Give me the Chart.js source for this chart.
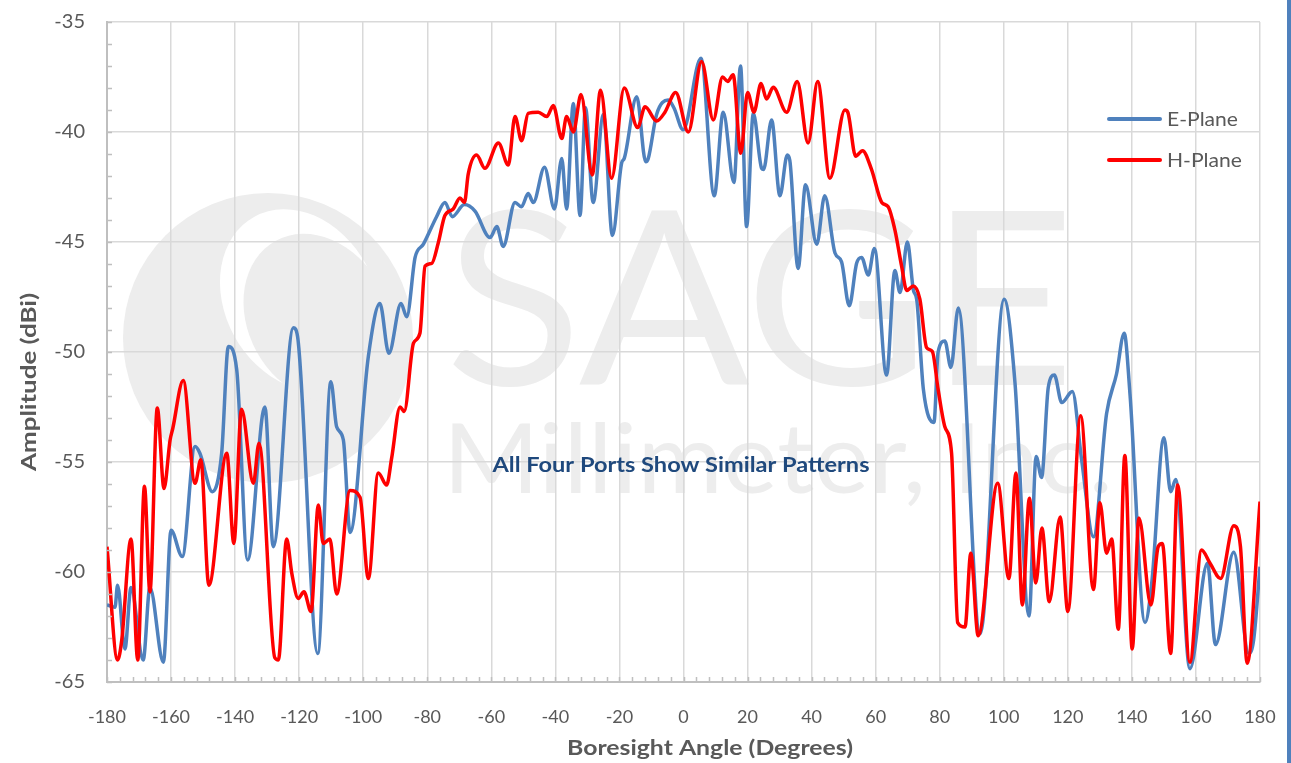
<!DOCTYPE html>
<html>
<head>
<meta charset="utf-8">
<script src="https://cdn.jsdelivr.net/npm/chart.js@4.4.1/dist/chart.umd.min.js"></script>
<style>
  html, body { margin: 0; padding: 0; background: #fff; }
  #wrap { position: relative; width: 1291px; height: 763px; }
</style>
</head>
<body>
<div id="wrap"><canvas id="pattern" width="1291" height="763"></canvas></div>
<script>
// tick values
const xTicks = [-180, -160, -140, -120, -100, -80, -60, -40, -20, 0, 20, 40, 60, 80, 100, 120, 140, 160, 180];
const yTicks = [-65, -60, -55, -50, -45, -40, -35];

// E-Plane measured pattern (angle in degrees, amplitude in dBi)
const eAngles = [-180, -177.5, -176.7, -174.4, -172.5, -168.7, -166.6, -162.4, -160, -156.5,
  -152.5, -151, -147.1, -144.2, -142.1, -139.5, -136.1, -131.5, -130.7, -128.1,
  -121.8, -120.5, -114.2, -110.1, -108.3, -106.2, -104.1, -98.4, -94.8, -92,
  -88.2, -86.4, -83.8, -81.2, -77.1, -74.5, -72.2, -68.4, -65.1, -60.4,
  -58.3, -56.3, -52.6, -50.6, -48.5, -46.9, -43.4, -40.3, -38, -36.5,
  -34.4, -32.3, -30.6, -28.2, -25, -22.2, -19.3, -18.5, -14.6, -11.8,
  -11, -8.4, -4.75, -3, -0.1, 5.46, 9.6, 12.4, 15.75, 17.8,
  19.7, 21.8, 24.4, 25, 27.5, 30.1, 32.4, 33.2, 35.8, 38.1,
  41.6, 44.1, 47.3, 49.35, 51.75, 54.05, 55.6, 57.7, 59.6, 63.4,
  66, 67.6, 69.9, 71.8, 72.8, 74.9, 78.2, 79.5, 81.6, 83.5,
  85.8, 92.6, 100.1, 103.5, 107.9, 110.1, 111.8, 113.9, 115.8, 118.1,
  121.4, 124.3, 128, 132.1, 135.2, 137.6, 139.4, 144.1, 146.2, 150,
  152.1, 153.7, 158.1, 163.6, 166.1, 171.8, 176.5, 178, 180];
const eValues = [-61.5, -61.6, -60.6, -63.5, -60.7, -64.0, -60.7, -64.1, -58.1, -59.3,
  -54.3, -54.6, -56.35, -54.6, -49.75, -50.8, -59.45, -52.9, -52.5, -58.85,
  -48.9, -49.3, -63.7, -51.35, -53.4, -54.0, -58.2, -50.2, -47.8, -50.06,
  -47.8, -48.4, -45.7, -45.1, -43.85, -43.2, -43.85, -43.3, -43.6, -44.8,
  -44.3, -45.2, -43.2, -43.4, -42.8, -43.2, -41.6, -43.5, -41.2, -43.5,
  -38.7, -43.8, -38.9, -43.2, -39.2, -44.7, -41.4, -41.2, -38.4, -41.35,
  -41.2, -39.2, -38.55, -38.9, -39.9, -36.65, -42.9, -39.1, -42.3, -37.0,
  -44.3, -39.15, -41.65, -41.7, -39.45, -42.9, -41.05, -41.3, -46.2, -42.4,
  -45.1, -42.9, -45.5, -45.9, -47.9, -45.97, -45.7, -46.5, -45.3, -51.05,
  -46.3, -47.3, -45.0, -47.2, -47.6, -51.7, -53.2, -50.0, -49.5, -50.7,
  -48.0, -62.8, -47.6, -51.4, -62.0, -54.75, -55.7, -51.6, -51.05, -52.3,
  -51.8, -54.9, -58.4, -52.8, -51.0, -49.15, -51.9, -62.3, -60.5, -53.9,
  -56.35, -55.8, -64.4, -59.6, -63.3, -59.1, -63.7, -63.1, -59.76];

// H-Plane measured pattern
const hAngles = [-180, -176.7, -175.4, -172.5, -170.4, -168.3, -166.6, -164.3, -162.2, -160.3,
  -159.5, -156.2, -152.5, -150.7, -148.2, -142.6, -140.4, -138, -134.3, -132.55,
  -127.6, -126.5, -123.9, -122.3, -120.3, -118.5, -116.3, -114, -112.5, -110.4,
  -108.3, -104.1, -101, -98.4, -95.3, -92.7, -91.1, -88.5, -87.2, -84.3,
  -82.3, -80.7, -78.6, -76.6, -74.5, -71.9, -69.8, -68.4, -67.2, -64.6,
  -62, -57.8, -54.7, -52.6, -50.55, -48.5, -45.35, -42.7, -40.65, -38,
  -36.5, -34.4, -32, -28.5, -25.9, -22.45, -18.5, -14.3, -12, -8.4,
  -5.8, -2.45, 1.5, 5.65, 9.3, 12.2, 13.8, 15.5, 17.9, 20,
  22, 24.2, 25.95, 28, 32.2, 35.5, 38.9, 41.9, 45.7, 50.4,
  51.3, 53.75, 55.9, 58.7, 61.9, 63.9, 66, 68.1, 69.7, 71.75,
  73.8, 75.9, 77.7, 79.5, 81.6, 83.7, 85.6, 87.9, 89.7, 92,
  98.1, 101.6, 103.8, 105.8, 108, 110, 111.9, 114.2, 117.6, 120,
  124, 128, 130, 132.1, 133.7, 135.75, 137.8, 140.1, 142.2, 145.95,
  148.2, 149.5, 152.1, 154.3, 158.1, 161.75, 164.4, 167.7, 171.8, 173.9,
  176, 180];
const hValues = [-58.85, -64.0, -63.1, -58.5, -64.0, -56.1, -60.9, -52.55, -56.2, -54.0,
  -53.5, -51.3, -55.97, -54.9, -60.6, -54.6, -58.7, -52.6, -55.97, -54.15,
  -63.9, -64.0, -58.5, -60.06, -61.2, -60.9, -61.8, -56.95, -58.7, -58.5,
  -61.0, -56.3, -56.6, -60.3, -55.5, -56.05, -54.8, -52.5, -52.7, -49.6,
  -49.15, -46.1, -45.97, -45.06, -43.8, -43.5, -43.0, -43.2, -41.9, -41.05,
  -41.65, -40.5, -41.5, -39.3, -40.4, -39.15, -39.1, -39.3, -38.8, -40.3,
  -39.3, -40.0, -38.3, -41.95, -38.1, -42.1, -38.0, -39.8, -38.85, -39.5,
  -39.1, -38.2, -40.0, -36.8, -39.45, -37.5, -37.7, -37.4, -40.97, -38.2,
  -39.1, -37.8, -38.5, -37.97, -39.1, -37.7, -40.5, -37.7, -42.1, -39.0,
  -39.1, -41.1, -40.85, -41.7, -43.2, -43.4, -44.45, -46.1, -47.2, -47.0,
  -47.6, -49.8, -49.98, -51.7, -53.4, -54.6, -62.3, -62.5, -59.15, -62.9,
  -55.97, -60.3, -55.5, -61.5, -56.65, -60.5, -58.0, -61.35, -57.5, -61.8,
  -52.9, -60.8, -56.85, -59.15, -58.5, -62.6, -54.7, -63.5, -57.55, -61.5,
  -58.85, -58.7, -63.7, -56.05, -64.1, -59.0, -59.6, -60.3, -57.9, -58.85,
  -64.15, -56.8];

const toPoints = (xs, ys) => xs.map((x, i) => ({ x: x, y: ys[i] }));

const GREY_TEXT = '#595959';

// draws a text stretched to a given width, centred on cx
function fitText(ctx, text, cx, cy, width, font, color, rotate) {
    ctx.save();
    ctx.font = font;
    const w = ctx.measureText(text).width;
    ctx.translate(cx, cy);
    if (rotate) ctx.rotate(-Math.PI / 2);
    ctx.scale(width / w, 1);
    ctx.textAlign = 'center';
    ctx.textBaseline = 'alphabetic';
    ctx.fillStyle = color;
    ctx.fillText(text, 0, 0);
    ctx.restore();
}

/*---- watermark behind the plot ----*/
const watermark = {
    id: 'watermark',
    beforeDraw(chart) {
        const ctx = chart.ctx;
        ctx.save();
        ctx.fillStyle = '#ffffff';
        ctx.fillRect(0, 0, chart.width, chart.height);

        // logo disc with its white swoosh
        ctx.fillStyle = '#EDEDED';
        ctx.beginPath();
        ctx.arc(268, 338, 145, 0, Math.PI * 2);
        ctx.fill();
        ctx.fillStyle = '#ffffff';
        ctx.beginPath();
        ctx.ellipse(300, 300, 75, 95, -0.5, 0, Math.PI * 2);
        ctx.fill();
        ctx.fillStyle = '#EDEDED';
        ctx.beginPath();
        ctx.ellipse(318, 318, 70, 88, -0.5, 0, Math.PI * 2);
        ctx.fill();

        fitText(ctx, 'SAGE', 760, 385, 630, '400 243px Lato', '#EDEDED', false);
        fitText(ctx, 'Millimeter, Inc.', 778, 493, 670, '400 97px Lato', '#EDEDED', false);
        ctx.restore();
    }
};

/*---- minor ticks, titles, legend, note ----*/
const decorations = {
    id: 'decorations',
    afterDraw(chart) {
        const ctx = chart.ctx;
        const xs = chart.scales.x, ys = chart.scales.y;
        const a = chart.chartArea;
        ctx.save();
        ctx.strokeStyle = '#BFBFBF';
        ctx.lineWidth = 1.5;
        ctx.beginPath();
        for (let v = -180; v <= 180; v += 4) {
            const px = Math.round(xs.getPixelForValue(v)) + 0.5;
            ctx.moveTo(px, a.bottom);
            ctx.lineTo(px, a.bottom - 5);
        }
        for (let v = -65; v <= -35; v += 1) {
            const py = Math.round(ys.getPixelForValue(v)) + 0.5;
            ctx.moveTo(a.left, py);
            ctx.lineTo(a.left + 5, py);
        }
        ctx.stroke();

        // axis titles
        fitText(ctx, 'Amplitude (dBi)', 36, 382, 178, 'bold 21px Lato', GREY_TEXT, true);
        fitText(ctx, 'Boresight Angle (Degrees)', 710, 755, 286, 'bold 21px Lato', GREY_TEXT, false);

        // note inside the plot
        fitText(ctx, 'All Four Ports Show Similar Patterns', 681, 472, 377, 'bold 20px Lato', '#1F497D', false);

        // legend
        const items = chart.data.datasets;
        const rows = [119, 160];
        const widths = [71, 75];
        items.forEach((ds, i) => {
            ctx.strokeStyle = ds.borderColor;
            ctx.lineWidth = 4;
            ctx.lineCap = 'round';
            ctx.beginPath();
            ctx.moveTo(1109, rows[i]);
            ctx.lineTo(1160, rows[i]);
            ctx.stroke();
            fitText(ctx, ds.label, 1167 + widths[i] / 2, rows[i] + 7, widths[i], '20px Lato', GREY_TEXT, false);
        });

        // blue frame edge at the right
        ctx.fillStyle = '#4F81BD';
        ctx.fillRect(1287, 0, 4, chart.height);
        ctx.restore();
    }
};

const ctx = document.getElementById('pattern').getContext('2d');
const myChart = new Chart(ctx, {
    type: 'line',
    data: {
        datasets: [{
            label: 'E-Plane',
            data: toPoints(eAngles, eValues),
            borderColor: '#4F81BD',
            borderWidth: 3.5,
            pointRadius: 0,
            cubicInterpolationMode: 'monotone',
            order: 1,
        }, {
            label: 'H-Plane',
            data: toPoints(hAngles, hValues),
            borderColor: '#FF0000',
            borderWidth: 3.5,
            pointRadius: 0,
            cubicInterpolationMode: 'monotone',
            order: 0,
        }]
    },
    options: {
        responsive: false,
        animation: false,
        devicePixelRatio: 1,
        layout: { padding: { top: 22, right: 31, left: 0, bottom: 0 } },
        plugins: {
            legend: { display: false },
            tooltip: { enabled: false },
        },
        scales: {
            x: {
                type: 'linear',
                min: -180,
                max: 180,
                afterBuildTicks: s => { s.ticks = xTicks.map(v => ({ value: v })); },
                afterFit: s => {
                    s.height = 81;
                    s.paddingLeft = 0;
                    s.paddingRight = 0;
                },
                ticks: {
                    color: GREY_TEXT,
                    font: { family: 'Lato', size: 18 },
                    padding: 24,
                    maxRotation: 0,
                    autoSkip: false,
                },
                grid: { color: '#D9D9D9', lineWidth: 1.5, drawTicks: false },
                border: { color: '#BFBFBF', width: 2 },
            },
            y: {
                type: 'linear',
                min: -65,
                max: -35,
                afterBuildTicks: s => { s.ticks = yTicks.map(v => ({ value: v })); },
                afterFit: s => {
                    s.width = 107;
                    s.paddingTop = 0;
                    s.paddingBottom = 0;
                },
                ticks: {
                    color: GREY_TEXT,
                    font: { family: 'Lato', size: 20 },
                    padding: 22,
                },
                grid: { color: '#D9D9D9', lineWidth: 1.5, drawTicks: false },
                border: { color: '#BFBFBF', width: 2 },
            }
        }
    },
    plugins: [watermark, decorations]
});
</script>
</body>
</html>
